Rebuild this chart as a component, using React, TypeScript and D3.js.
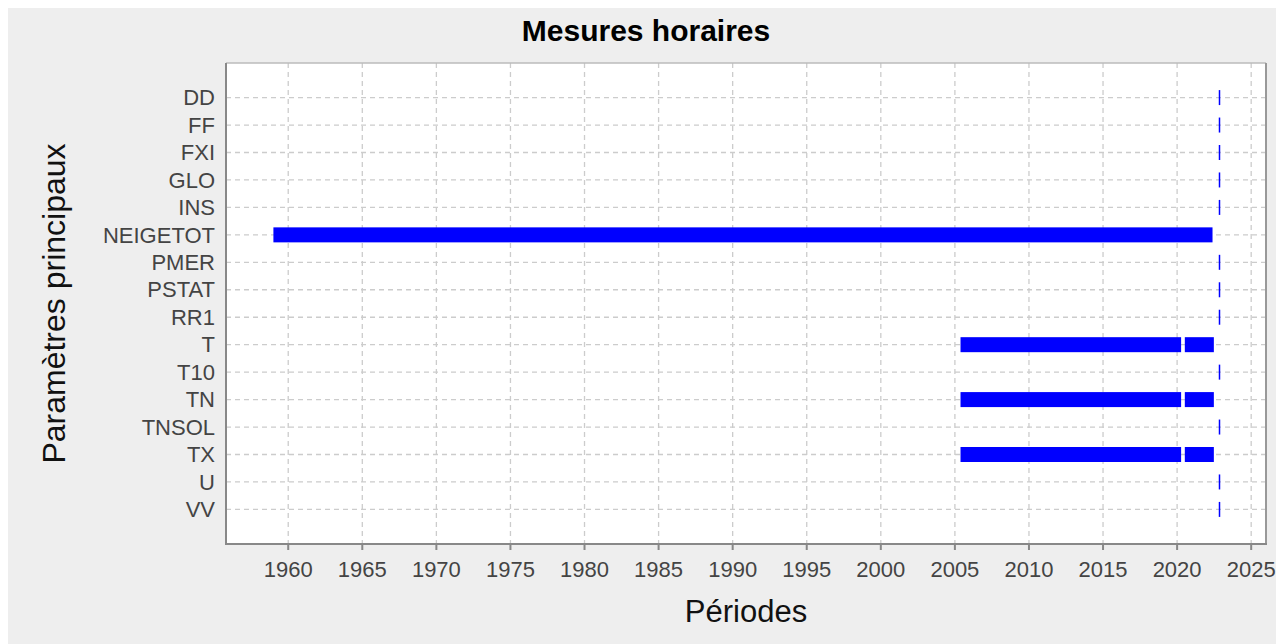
import React, { useEffect } from "react";
import * as d3 from "d3";

const params = ["DD", "FF", "FXI", "GLO", "INS", "NEIGETOT", "PMER", "PSTAT", "RR1", "T", "T10", "TN", "TNSOL", "TX", "U", "VV"];
const periodParam = ["DD", "FF", "FXI", "GLO", "INS", "NEIGETOT", "PMER", "PSTAT", "RR1", "T", "T", "T10", "TN", "TN", "TNSOL", "TX", "TX", "U", "VV"];
const periodStart = [2022.8, 2022.8, 2022.8, 2022.8, 2022.8, 1959.0, 2022.8, 2022.8, 2022.8, 2005.38, 2020.52, 2022.8, 2005.38, 2020.52, 2022.8, 2005.38, 2020.52, 2022.8, 2022.8];
const periodEnd = [2022.8, 2022.8, 2022.8, 2022.8, 2022.8, 2022.39, 2022.8, 2022.8, 2022.8, 2020.27, 2022.48, 2022.8, 2020.27, 2022.48, 2022.8, 2020.27, 2022.48, 2022.8, 2022.8];
const yearTicks = [1960, 1965, 1970, 1975, 1980, 1985, 1990, 1995, 2000, 2005, 2010, 2015, 2020, 2025];

const W = 1268;
const H = 636;
const CX = 638;
const M = { left: 218, right: 1258, top: 55, bottom: 536 };
const FONT = "'Liberation Sans', Arial, Helvetica, sans-serif";

export default function App() {
  useEffect(() => {
    document.body.style.margin = "8px 0 0 8px";
    document.documentElement.style.overflow = "hidden";
  }, []);

  const x = d3.scaleLinear().domain([1955.8, 2026]).range([M.left, M.right]);
  const y = d3.scalePoint<string>().domain(params).range([M.top, M.bottom]).padding(1.26);
  const barH = 15;

  return (
    <svg width={W} height={H} style={{ display: "block", background: "#eeeeee", fontFamily: FONT }}>
      <rect x={M.left} y={M.top} width={M.right - M.left} height={M.bottom - M.top} fill="#ffffff" />
      {/* grid */}
      {yearTicks.map((t) => (
        <line key={"gx" + t} x1={x(t)} x2={x(t)} y1={M.top} y2={M.bottom} stroke="#cccccc" strokeWidth={1.3} strokeDasharray="5,4" />
      ))}
      {params.map((p) => (
        <line key={"gy" + p} x1={M.left} x2={M.right} y1={y(p)} y2={y(p)} stroke="#cccccc" strokeWidth={1.3} strokeDasharray="5,4" />
      ))}
      {/* bars */}
      {periodParam.map((p, i) => {
        const x0 = x(periodStart[i]);
        const x1 = x(periodEnd[i]);
        const cy = y(p) as number;
        if (x1 - x0 < 1) {
          const lx = Math.round(x0) + 0.5;
          return <line key={"b" + i} x1={lx} x2={lx} y1={cy - barH / 2} y2={cy + barH / 2} stroke="#0000ff" strokeWidth={1.5} />;
        }
        return <rect key={"b" + i} x={x0} y={cy - barH / 2} width={x1 - x0} height={barH} fill="#0000ff" />;
      })}
      {/* frame */}
      <line x1={M.left} x2={M.right} y1={M.top} y2={M.top} stroke="#bbbbbb" strokeWidth={1.5} />
      <line x1={M.right} x2={M.right} y1={M.top} y2={M.bottom} stroke="#999999" strokeWidth={2} />
      <line x1={M.left} x2={M.left} y1={M.top} y2={M.bottom + 1} stroke="#888888" strokeWidth={2} />
      <line x1={M.left - 1} x2={M.right + 1} y1={M.bottom} y2={M.bottom} stroke="#888888" strokeWidth={2} />
      {/* x ticks */}
      {yearTicks.map((t) => (
        <g key={"tx" + t}>
          <line x1={x(t)} x2={x(t)} y1={M.bottom} y2={M.bottom + 6} stroke="#888888" strokeWidth={2} />
          <text x={x(t)} y={M.bottom + 32.5} textAnchor="middle" fontSize={22} fill="#444444">{t}</text>
        </g>
      ))}
      {/* y labels */}
      {params.map((p) => (
        <text key={"ty" + p} x={M.left - 11} y={y(p)} dy="0.35em" textAnchor="end" fontSize={22} fill="#444444">{p}</text>
      ))}
      {/* titles */}
      <text x={CX} y={33} textAnchor="middle" fontSize={30} fontWeight="bold" fill="#000000">Mesures horaires</text>
      <text x={(M.left + M.right) / 2} y={614} textAnchor="middle" fontSize={31} fill="#111111">Périodes</text>
      <text transform={`translate(57,${(M.top + M.bottom) / 2}) rotate(-90)`} textAnchor="middle" fontSize={32} fill="#111111">Paramètres principaux</text>
    </svg>
  );
}
